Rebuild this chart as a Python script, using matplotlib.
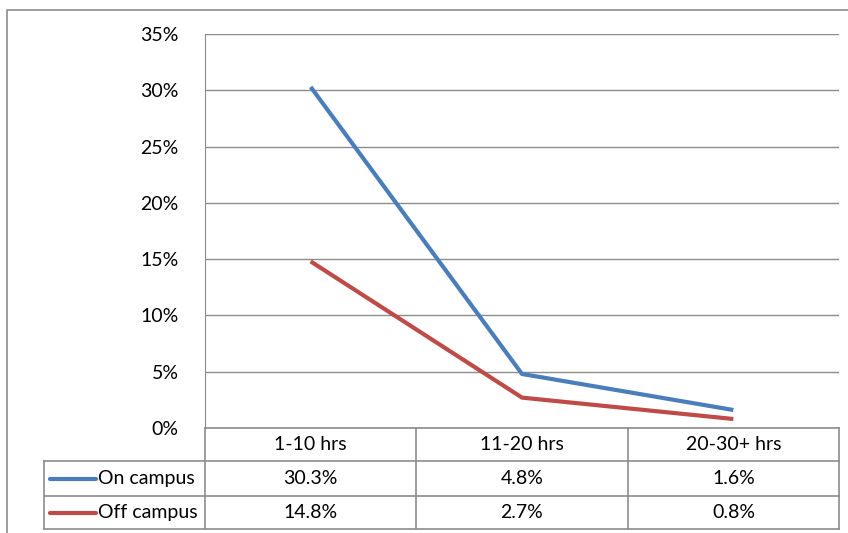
import matplotlib
matplotlib.use("Agg")
import matplotlib.pyplot as plt
from matplotlib.patches import Rectangle
from matplotlib.lines import Line2D

categories = ["1-10 hrs", "11-20 hrs", "20-30+ hrs"]
series_names = ["On campus", "Off campus"]
on_campus = [30.3, 4.8, 1.6]
off_campus = [14.8, 2.7, 0.8]
on_labels = ["30.3%", "4.8%", "1.6%"]
off_labels = ["14.8%", "2.7%", "0.8%"]
yticks = [0, 5, 10, 15, 20, 25, 30, 35]
colors = ["#4A7EBB", "#BE4B48"]

plt.rcParams['font.family'] = ['Lato', 'DejaVu Sans']
FS = 14
GRID = "#8c8c8c"

W, H = 848, 533
fig = plt.figure(figsize=(W / 100, H / 100), dpi=100)

def fx(px):
    return px / W

def fy(py):
    return 1 - py / H

# outer chart border
fig.add_artist(Rectangle((fx(7), fy(540)), fx(860) - fx(7), fy(10) - fy(540),
                         transform=fig.transFigure, fill=False, edgecolor=GRID, lw=1.2))

L, R, T, B = 205, 839, 34, 428
ax = fig.add_axes([fx(L), fy(B), fx(R) - fx(L), fy(T) - fy(B)])
ax.set_xlim(0, 3)
ax.set_ylim(0, 35)
x = [i + 0.5 for i in range(len(categories))]
ax.plot(x, on_campus, color=colors[0], lw=3, solid_capstyle='butt', zorder=3)
ax.plot(x, off_campus, color=colors[1], lw=3, solid_capstyle='butt', zorder=3)
ax.set_yticks(yticks)
ax.set_yticklabels([f"{v}%" for v in yticks], fontsize=FS)
ax.tick_params(axis='y', length=0, pad=19)
ax.set_xticks([])
ax.grid(axis='y', color=GRID, lw=1)
for s in ["top", "right", "bottom"]:
    ax.spines[s].set_visible(False)
ax.spines["left"].set_color(GRID)
ax.set_axisbelow(True)

# data table
tab_ax = fig.add_axes([0, 0, 1, 1])
tab_ax.set_xlim(0, W)
tab_ax.set_ylim(H, 0)
tab_ax.axis('off')
col_edges = [205, 416, 628, 839]
row_edges = [428, 461, 496, 529]
legend_left = 44

def hline(x0, x1, y):
    tab_ax.add_line(Line2D([x0, x1], [y, y], color=GRID, lw=1.2))

def vline(x, y0, y1):
    tab_ax.add_line(Line2D([x, x], [y0, y1], color=GRID, lw=1.2))

hline(col_edges[0], col_edges[-1], row_edges[0])
for y in row_edges[1:]:
    hline(legend_left, col_edges[-1], y)
for xe in col_edges:
    vline(xe, row_edges[0], row_edges[-1])
vline(legend_left, row_edges[1], row_edges[-1])

for i, c in enumerate(categories):
    cx = (col_edges[i] + col_edges[i + 1]) / 2
    tab_ax.text(cx, (row_edges[0] + row_edges[1]) / 2, c, ha='center', va='center', fontsize=FS)

rows = [on_labels, off_labels]
for r, labels in enumerate(rows):
    cy = (row_edges[r + 1] + row_edges[r + 2]) / 2
    tab_ax.add_line(Line2D([50, 96], [cy, cy], color=colors[r], lw=3, solid_capstyle='round'))
    tab_ax.text(98, cy, series_names[r], ha='left', va='center', fontsize=FS)
    for i, lab in enumerate(labels):
        cx = (col_edges[i] + col_edges[i + 1]) / 2
        tab_ax.text(cx, cy, lab, ha='center', va='center', fontsize=FS)

fig.savefig("out.png", dpi=100)
